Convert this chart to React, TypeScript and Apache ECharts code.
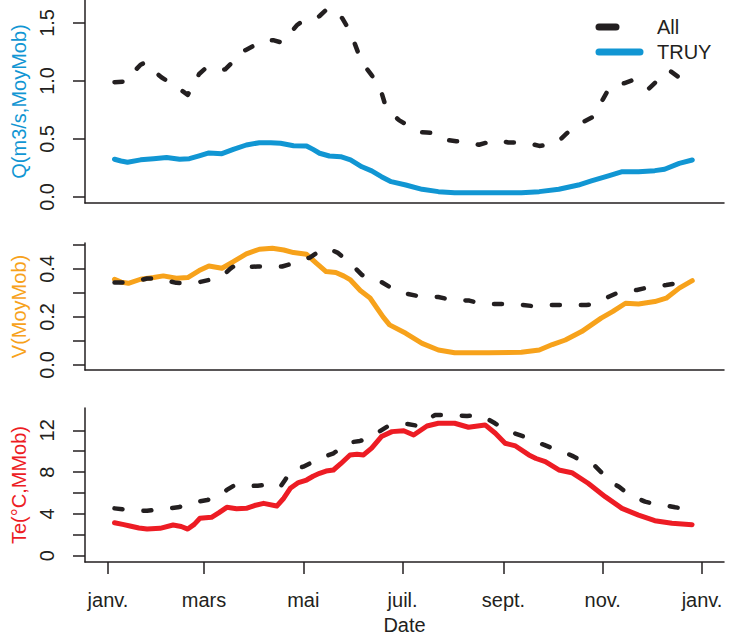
import React, { useEffect, useRef } from 'react';
import * as echarts from 'echarts';

// x positions are day-of-year (0 = 1 Jan)
const monthTickDays = [0, 59, 120, 181, 243, 304, 365];
const monthTickLabels = ['janv.', 'mars', 'mai', 'juil.', 'sept.', 'nov.', 'janv.'];

const qTicks = [0, 0.5, 1, 1.5];
const vTicks = [0, 0.1, 0.2, 0.3, 0.4, 0.5];
const vLabels = [0, 0.2, 0.4];
const teTicks = [0, 2, 4, 6, 8, 10, 12];
const teLabels = [0, 4, 8, 12];

const legendNames = ['All', 'TRUY'];

// Q (m3/s, moving average)
const qAll: [number, number][] = [
  [4, 0.99], [12, 0.995], [16, 1.08], [20, 1.14], [23, 1.16], [27, 1.1], [33, 1.03], [40, 0.97],
  [45, 0.92], [49, 0.88], [53, 0.98], [56, 1.06], [60, 1.11], [67, 1.085], [72, 1.1], [76, 1.155],
  [81, 1.24], [85, 1.27], [89, 1.3], [96, 1.35], [102, 1.35], [107, 1.33], [112, 1.41], [116, 1.48],
  [119, 1.51], [126, 1.525], [130, 1.56], [135, 1.625], [139, 1.6], [144, 1.54], [149, 1.42],
  [153, 1.27], [156, 1.16], [162, 1.05], [167, 0.95], [170, 0.81], [175, 0.71], [179, 0.66],
  [184, 0.62], [191, 0.56], [196, 0.555], [202, 0.55], [209, 0.49], [214, 0.48], [219, 0.48],
  [228, 0.45], [233, 0.47], [239, 0.49], [246, 0.47], [252, 0.47], [258, 0.465], [265, 0.44],
  [270, 0.45], [276, 0.47], [282, 0.55], [287, 0.61], [291, 0.64], [298, 0.69], [301, 0.76],
  [304, 0.84], [308, 0.94], [313, 0.97], [317, 0.98], [323, 1.01], [327, 0.97], [332, 0.93],
  [338, 1.01], [342, 1.06], [345, 1.09], [351, 1.03], [355, 1.07], [359, 1.06],
];
const qTruy: [number, number][] = [
  [4, 0.325], [8, 0.31], [12, 0.3], [20, 0.32], [28, 0.33], [36, 0.34], [44, 0.325], [50, 0.33],
  [56, 0.355], [62, 0.38], [70, 0.373], [77, 0.41], [85, 0.448], [93, 0.468], [100, 0.468],
  [106, 0.463], [114, 0.442], [122, 0.44], [126, 0.41], [130, 0.377], [136, 0.353], [143, 0.347],
  [149, 0.32], [156, 0.26], [162, 0.225], [168, 0.175], [174, 0.132], [183, 0.103], [193, 0.066],
  [203, 0.046], [213, 0.037], [234, 0.037], [254, 0.037], [265, 0.046], [277, 0.066], [289, 0.103],
  [297, 0.138], [308, 0.184], [316, 0.218], [326, 0.218], [336, 0.227], [342, 0.239], [351, 0.29],
  [359, 0.319],
];

// V (moving average)
const vAll: [number, number][] = [
  [4, 0.343], [12, 0.343], [18, 0.35], [24, 0.36], [32, 0.36], [37, 0.35], [42, 0.342], [50, 0.34],
  [56, 0.345], [62, 0.354], [70, 0.368], [75, 0.4], [80, 0.425], [86, 0.408], [92, 0.41], [98, 0.41],
  [107, 0.41], [112, 0.42], [117, 0.434], [124, 0.447], [129, 0.47], [135, 0.486], [141, 0.468],
  [146, 0.44], [151, 0.41], [156, 0.375], [161, 0.36], [166, 0.354], [173, 0.325], [178, 0.305],
  [184, 0.296], [192, 0.285], [197, 0.284], [203, 0.283], [211, 0.271], [216, 0.27], [222, 0.268],
  [230, 0.254], [235, 0.254], [241, 0.254], [250, 0.254], [255, 0.25], [260, 0.246], [268, 0.25],
  [274, 0.25], [280, 0.25], [289, 0.25], [294, 0.25], [299, 0.254], [308, 0.285], [313, 0.3],
  [318, 0.305], [325, 0.3125], [330, 0.32], [336, 0.326], [343, 0.333], [349, 0.34], [354, 0.347],
  [359, 0.347],
];
const vTruy: [number, number][] = [
  [4, 0.357], [8, 0.345], [12.5, 0.34], [20, 0.357], [28, 0.364], [34, 0.371], [42, 0.361],
  [49, 0.364], [56, 0.393], [62, 0.4125], [70, 0.403], [77, 0.43], [85, 0.4625], [93, 0.482],
  [101, 0.486], [108, 0.479], [114, 0.468], [122, 0.461], [128, 0.424], [134, 0.389], [140, 0.385],
  [145, 0.37], [149, 0.354], [155, 0.31], [161, 0.279], [169, 0.2], [173, 0.167], [183, 0.132],
  [193, 0.09], [203, 0.0625], [213, 0.051], [234, 0.051], [254, 0.053], [265, 0.0625], [273, 0.085],
  [281, 0.104], [291, 0.139], [303, 0.195], [310, 0.222], [318, 0.257], [326, 0.254], [336, 0.264],
  [343, 0.278], [351, 0.32], [359, 0.351],
];

// Te (°C, moving average)
const teAll: [number, number][] = [
  [4, 4.53], [13.5, 4.37], [18, 4.3], [24, 4.3], [32, 4.44], [38, 4.55], [43, 4.63], [51.6, 4.95],
  [56, 5.2], [61, 5.33], [69, 5.71], [73, 6.3], [78, 6.77], [86.6, 6.67], [92, 6.7], [97.7, 6.77],
  [105.7, 6.55], [109, 7.3], [113, 8.2], [120, 8.52], [125, 8.9], [130, 9.32], [138.6, 9.8],
  [143, 10.3], [147.5, 10.81], [154.8, 10.98], [160, 11.2], [165, 11.71], [171.5, 12.34], [178, 12.6],
  [184, 12.6], [191, 12.41], [196, 13.0], [201, 13.46], [208.6, 13.46], [215, 13.4], [220.6, 13.37],
  [228, 13.43], [233, 13.1], [237.8, 12.67], [244, 12.03], [250, 11.7], [255.7, 11.39],
  [262.4, 10.91], [268, 10.6], [272.9, 10.28], [281, 9.86], [286, 9.5], [290.7, 9.09], [298.6, 8.68],
  [303, 8.0], [306.6, 7.24], [314, 6.6], [318, 6.1], [323, 5.65], [330, 5.17], [336, 4.95],
  [341, 4.85], [348.5, 4.63], [358, 4.45],
];
const teTruy: [number, number][] = [
  [4, 3.16], [9, 3.0], [13.5, 2.84], [19, 2.65], [24, 2.55], [32, 2.62], [40, 2.94], [45, 2.8],
  [49, 2.55], [53, 3.0], [56.5, 3.58], [63.6, 3.67], [68, 4.1], [73, 4.63], [79, 4.5], [85, 4.53],
  [90, 4.8], [95.6, 5.01], [103.7, 4.75], [108, 5.5], [112, 6.45], [117, 7.0], [122, 7.24],
  [126, 7.6], [130, 7.88], [134, 8.1], [138.5, 8.2], [143, 8.8], [148.7, 9.64], [153, 9.7],
  [157, 9.64], [162, 10.3], [168, 11.4], [174.5, 11.87], [181.7, 11.96], [187.8, 11.55], [196, 12.41],
  [203, 12.67], [213, 12.67], [221.5, 12.29], [231.7, 12.51], [238, 11.71], [244, 10.76],
  [250.4, 10.5], [258.6, 9.64], [263, 9.3], [268.7, 9.0], [277, 8.2], [285, 7.94], [295, 6.93],
  [305.5, 5.65], [315.8, 4.53], [326, 3.89], [336, 3.35], [346.5, 3.1], [358.9, 2.97],
];

const BLACK = '#231F20';
const BLUE = '#1196D3';
const ORANGE = '#F7A21B';
const RED = '#ED1C24';
const FONT = 'Liberation Sans, Arial, Helvetica, sans-serif';

const X_MIN = -14.13;
const X_MAX = 378.5;

function makeX(gridIndex: number, showLabels: boolean) {
  return {
    type: 'value',
    gridIndex,
    min: X_MIN,
    max: X_MAX,
    axisLine: { show: true, onZero: false, lineStyle: { color: BLACK, width: 1.5 } },
    splitLine: { show: false },
    axisTick: {
      show: showLabels,
      customValues: monthTickDays,
      length: 12,
      lineStyle: { color: BLACK, width: 1.5 },
    },
    axisLabel: {
      show: showLabels,
      customValues: monthTickDays,
      formatter: (v: number) => monthTickLabels[monthTickDays.indexOf(Math.round(v))] ?? '',
      color: BLACK,
      fontSize: 20,
      fontFamily: FONT,
      margin: 28,
    },
    name: showLabels ? 'Date' : '',
    nameLocation: 'middle',
    nameGap: 53,
    nameTextStyle: { color: BLACK, fontSize: 20, fontFamily: FONT },
  };
}

function makeY(
  gridIndex: number,
  min: number,
  max: number,
  ticks: number[],
  labels: number[],
  digits: number,
  name: string,
  nameColor: string
) {
  return {
    type: 'value',
    gridIndex,
    min,
    max,
    axisLine: { show: true, onZero: false, lineStyle: { color: BLACK, width: 1.5 } },
    splitLine: { show: false },
    axisTick: { show: true, customValues: ticks, length: 12, lineStyle: { color: BLACK, width: 1.5 } },
    axisLabel: {
      customValues: labels,
      rotate: 90,
      formatter: (v: number) => v.toFixed(digits),
      color: BLACK,
      fontSize: 20,
      fontFamily: FONT,
      margin: 28,
    },
    name,
    nameLocation: 'middle',
    nameGap: 51,
    nameTextStyle: { color: nameColor, fontSize: 20, fontFamily: FONT },
  };
}

function dashed(name: string, data: [number, number][], idx: number) {
  return {
    type: 'line',
    name,
    data,
    xAxisIndex: idx,
    yAxisIndex: idx,
    showSymbol: false,
    symbol: 'none',
    lineStyle: { color: BLACK, width: 4.5, type: [8, 21], cap: 'round', join: 'round' },
    itemStyle: { color: BLACK },
    z: 3,
  };
}

function solid(name: string, data: [number, number][], idx: number, color: string) {
  return {
    type: 'line',
    name,
    data,
    xAxisIndex: idx,
    yAxisIndex: idx,
    showSymbol: false,
    symbol: 'none',
    lineStyle: { color, width: 5, cap: 'round', join: 'round' },
    itemStyle: { color },
    z: 2,
  };
}

export default function App() {
  const ref = useRef<HTMLDivElement>(null);
  useEffect(() => {
    document.body.style.margin = '0';
    if (!ref.current) return;
    const chart = echarts.init(ref.current, undefined, { renderer: 'svg' });
    const gridBase = { left: 85, right: 20, outerBoundsMode: 'none', containLabel: false };
    chart.setOption({
      animation: false,
      backgroundColor: '#ffffff',
      textStyle: { fontFamily: FONT },
      grid: [
        { ...gridBase, top: 0, height: 203 },
        { ...gridBase, top: 243, height: 127 },
        { ...gridBase, top: 408, height: 154 },
      ],
      xAxis: [makeX(0, false), makeX(1, false), makeX(2, true)],
      yAxis: [
        makeY(0, -0.052, 1.698, qTicks, qTicks, 1, 'Q(m3/s,MoyMob)', BLUE),
        makeY(1, -0.021, 0.508, vTicks, vLabels, 1, 'V(MoyMob)', ORANGE),
        makeY(2, -0.6, 14.13, teTicks, teLabels, 0, 'Te(°C,MMob)', RED),
      ],
      legend: {
        show: true,
        orient: 'vertical',
        left: 590.5,
        top: 12,
        itemWidth: 41,
        itemHeight: 20,
        itemGap: 5,
        selectedMode: false,
        itemStyle: { opacity: 0, borderWidth: 0 },
        textStyle: { color: BLACK, fontSize: 20, fontFamily: FONT, padding: [0, 0, 0, 12] },
        data: [
          {
            name: legendNames[0],
            itemStyle: { opacity: 0, borderWidth: 0 },
            lineStyle: { color: BLACK, width: 7, type: [17, 40], cap: 'round' },
          },
          {
            name: legendNames[1],
            itemStyle: { opacity: 0, borderWidth: 0 },
            lineStyle: { color: BLUE, width: 7, type: 'solid', cap: 'round' },
          },
        ],
      },
      series: [
        solid(legendNames[1], qTruy, 0, BLUE),
        dashed(legendNames[0], qAll, 0),
        solid('TRUY V', vTruy, 1, ORANGE),
        dashed('All V', vAll, 1),
        solid('TRUY Te', teTruy, 2, RED),
        dashed('All Te', teAll, 2),
      ],
    });
    return () => chart.dispose();
  }, []);
  return <div ref={ref} style={{ width: 744, height: 637 }} />;
}
